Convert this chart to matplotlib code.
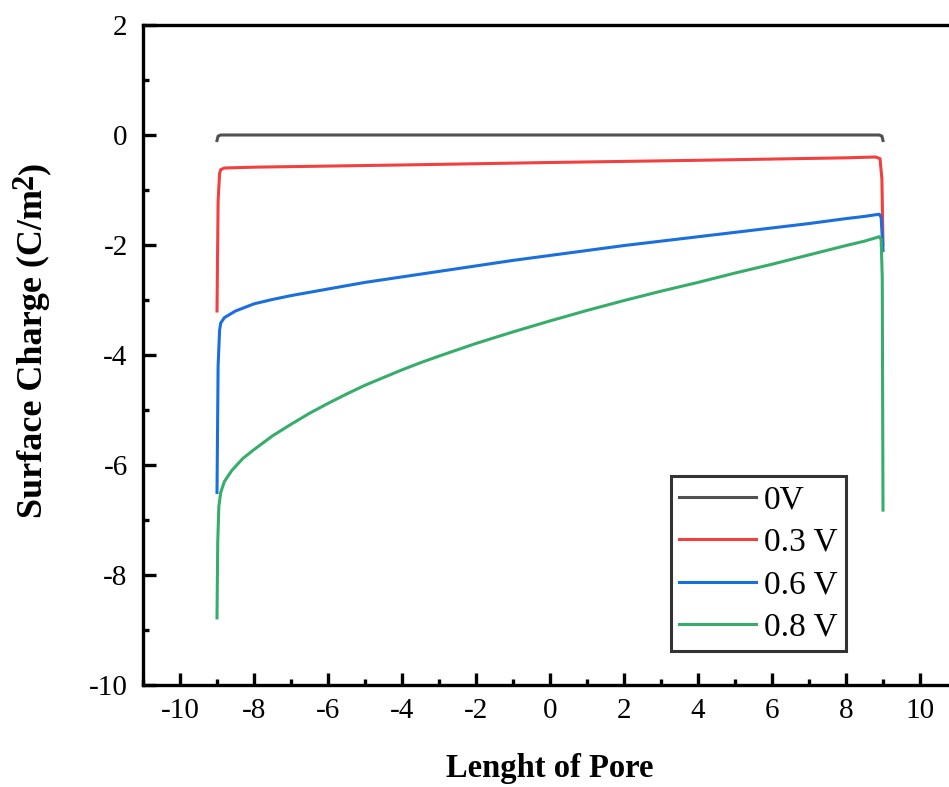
import matplotlib
matplotlib.use('Agg')
import matplotlib.pyplot as plt
from matplotlib.ticker import MultipleLocator
from matplotlib.transforms import IdentityTransform

plt.rcParams['font.family'] = ['Liberation Serif', 'DejaVu Serif']
plt.rcParams['axes.unicode_minus'] = False

# 0 V
x0 = [-9.0, -8.97, -8.9, 8.9, 8.97, 9.0]
y0 = [-0.1, -0.02, 0.0, 0.0, -0.02, -0.1]

# 0.3 V
x3 = [-9.0, -8.97, -8.93, -8.9, -8.8, -8.0, -4.0, 0.0, 4.0, 8.0, 8.8, 8.92, 8.97, 9.0]
y3 = [-3.2, -1.2, -0.7, -0.63, -0.6, -0.585, -0.545, -0.5, -0.46, -0.415, -0.4, -0.43, -0.8, -2.0]

# 0.6 V
x6 = [-9.0, -8.97, -8.93, -8.9, -8.8, -8.5, -8.0, -7.5, -7.0, -6.0, -5.0, -4.0, -3.0,
      -2.0, -1.0, 0.0, 1.0, 2.0, 3.0, 4.0, 5.0, 6.0, 7.0, 8.0, 8.5, 8.9, 8.95, 9.0]
y6 = [-6.5, -4.2, -3.55, -3.42, -3.32, -3.2, -3.07, -2.99, -2.92, -2.8, -2.68, -2.58, -2.48,
      -2.38, -2.28, -2.19, -2.1, -2.01, -1.93, -1.85, -1.77, -1.69, -1.61, -1.52, -1.48, -1.44, -1.5, -2.1]

# 0.8 V
x8 = [-9.0, -8.98, -8.95, -8.9, -8.8, -8.6, -8.3, -8.0, -7.5, -7.0, -6.5, -6.0, -5.5, -5.0,
      -4.5, -4.0, -3.5, -3.0, -2.0, -1.0, 0.0, 1.0, 2.0, 3.0, 4.0, 5.0, 6.0, 7.0, 8.0, 8.5,
      8.9, 8.95, 8.98, 9.0]
y8 = [-8.78, -7.4, -6.75, -6.5, -6.3, -6.1, -5.88, -5.72, -5.47, -5.26, -5.06, -4.88, -4.71, -4.55,
      -4.41, -4.27, -4.14, -4.02, -3.79, -3.58, -3.38, -3.19, -3.01, -2.84, -2.68, -2.51, -2.35, -2.18,
      -2.01, -1.93, -1.85, -1.9, -2.6, -6.82]

labels = ['0V', '0.3 V', '0.6 V', '0.8 V']
colors = ['#515151', '#F14040', '#1A6FDF', '#37AD6B']

fig = plt.figure(figsize=(9.49, 7.87), dpi=100)
ax = fig.add_axes([143 / 949, 102 / 787, 814 / 949, 660 / 787])

for xs, ys, lab, c in zip([x0, x3, x6, x8], [y0, y3, y6, y8], labels, colors):
    ax.plot(xs, ys, color=c, lw=2.2, label=lab, solid_joinstyle='round')

ax.set_xlim(-11, 11)
ax.set_ylim(-10, 2)
ax.xaxis.set_major_locator(MultipleLocator(2))
ax.xaxis.set_minor_locator(MultipleLocator(1))
ax.yaxis.set_major_locator(MultipleLocator(2))
ax.yaxis.set_minor_locator(MultipleLocator(1))
ax.tick_params(which='both', direction='in', width=2.4, labelsize=21, top=False, right=False)
ax.tick_params(which='major', length=9)
ax.tick_params(which='minor', length=4.5)
ax.tick_params(axis='x', pad=9)
ax.tick_params(axis='y', pad=11)
for s in ax.spines.values():
    s.set_linewidth(2.4)

ax.set_xlabel('Lenght of Pore', fontsize=23.5, fontweight='bold', labelpad=21)

# y label built in pieces so the superscript can stay nearly full size
px = IdentityTransform()
t1 = fig.text(42, 269, 'Surface Charge (C/m', transform=px, rotation=90, rotation_mode='anchor',
              ha='left', va='baseline', fontsize=26, fontweight='bold')
fig.canvas.draw()
bb = t1.get_window_extent()
t2 = fig.text(33, bb.y1, '2', transform=px, rotation=90, rotation_mode='anchor',
              ha='left', va='baseline', fontsize=22, fontweight='bold')
fig.canvas.draw()
bb2 = t2.get_window_extent()
fig.text(42, bb2.y1, ')', transform=px, rotation=90, rotation_mode='anchor',
         ha='left', va='baseline', fontsize=26, fontweight='bold')

leg = ax.legend(loc='lower right', bbox_to_anchor=(0.8636, 0.0515), fontsize=24,
                frameon=True, fancybox=False, handlelength=2.3, borderpad=0.25,
                labelspacing=0.36, handletextpad=0.25, borderaxespad=0)
leg.get_frame().set_edgecolor('black')
leg.get_frame().set_linewidth(2.2)

fig.savefig('out.png', dpi=100)
